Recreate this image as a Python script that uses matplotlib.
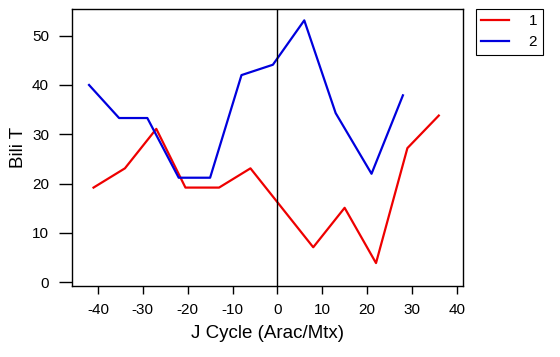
import matplotlib.pyplot as plt

plt.rcParams['font.family'] = ['Liberation Sans', 'DejaVu Sans']
plt.rcParams['axes.unicode_minus'] = False

# series 1 (red)
x1 = [-41, -34, -27, -20.5, -13, -6, 8, 15, 22, 29, 36]
y1 = [19.2, 23.1, 31.1, 19.2, 19.2, 23.1, 7.1, 15.1, 3.9, 27.2, 33.8]

# series 2 (blue)
x2 = [-42, -35.3, -29, -22, -15, -8, -1, 6, 13, 21, 28]
y2 = [40.0, 33.3, 33.3, 21.2, 21.2, 42.0, 44.1, 53.1, 34.3, 22.0, 37.9]

xticks = [-40, -30, -20, -10, 0, 10, 20, 30, 40]
yticks = [0, 10, 20, 30, 40, 50]

fig = plt.figure(figsize=(5.6, 3.57), dpi=100)
ax = fig.add_axes([72 / 560, 71 / 357, 391 / 560, 277 / 357])

ax.plot(x1, y1, color='#ee0000', lw=1.6, label='1')
ax.plot(x2, y2, color='#0000dd', lw=1.6, label='2')
ax.axvline(0, color='black', lw=1)

ax.set_xlim(-45.8, 41.4)
ax.set_ylim(-0.75, 55.4)
ax.set_xticks(xticks)
ax.set_yticks(yticks)
ax.tick_params(axis='x', direction='out', length=6, width=1, pad=6, labelsize=11, colors='black')
ax.tick_params(axis='y', direction='out', length=9.5, width=1, pad=7, labelsize=11, colors='black')
for s in ax.spines.values():
    s.set_linewidth(1)
    s.set_color('black')

ax.set_xlabel('J Cycle (Arac/Mtx)', fontsize=13.5, labelpad=6)
ax.set_ylabel('Bili T', fontsize=13.5, labelpad=4)

leg = fig.legend(loc='upper left', bbox_to_anchor=(476 / 560, 1 - 9 / 357),
                 borderaxespad=0, fancybox=False, edgecolor='black', framealpha=1,
                 fontsize=11, handlelength=1.8, handletextpad=1.3, borderpad=0.35,
                 labelspacing=0.45)
leg.get_frame().set_linewidth(0.8)

fig.savefig('out.png', dpi=100)
